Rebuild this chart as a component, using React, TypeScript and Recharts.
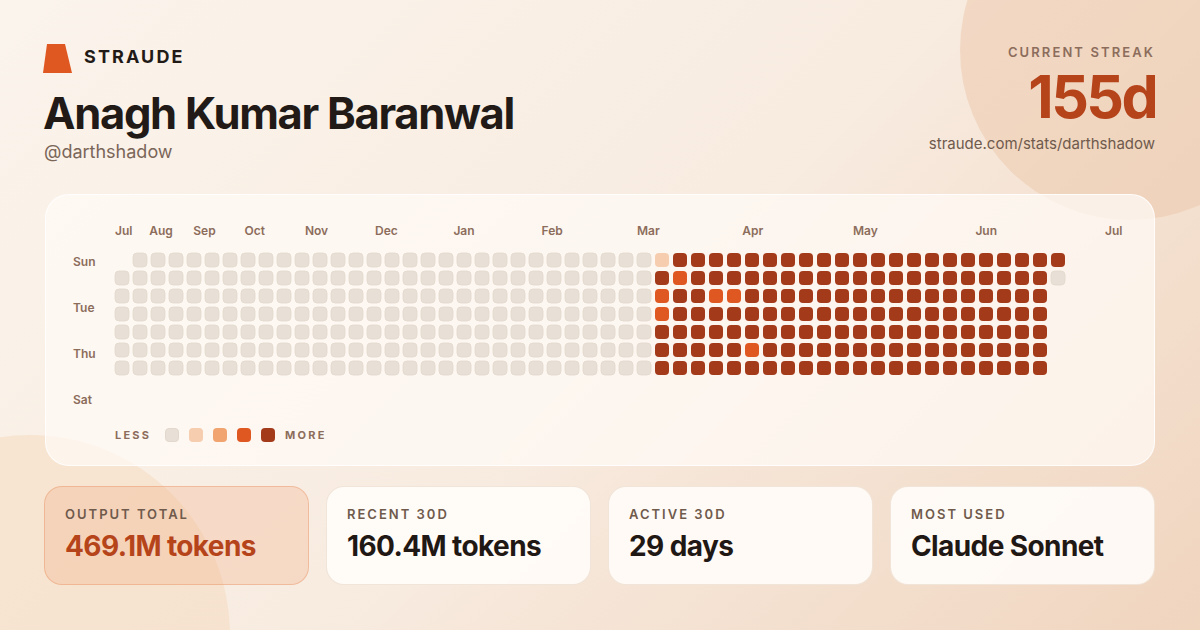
import { Scatter, ScatterChart, XAxis, YAxis } from "recharts";

// one string per weekday, one char per week column ("-" = no day, 0..4 = level)
const DAY_ROWS = ["Sun", "Mon", "Tue", "Wed", "Thu", "Fri", "Sat"];
const LEVELS = [
  "-0000000000000000000000000000014444444444444444444444",
  "00000000000000000000000000000043444444444444444444440",
  "0000000000000000000000000000003443344444444444444444-",
  "0000000000000000000000000000003444444444444444444444-",
  "0000000000000000000000000000004444444444444444444444-",
  "0000000000000000000000000000004444434444444444444444-",
  "0000000000000000000000000000004444444444444444444444-",
];

const MONTHS = ["Jul", "Aug", "Sep", "Oct", "Nov", "Dec", "Jan", "Feb", "Mar", "Apr", "May", "Jun", "Jul"];
const MONTH_COLS = [0, 1.9, 4.35, 7.2, 10.55, 14.45, 18.8, 23.7, 29, 34.85, 41, 47.8, 55];
const DAY_LABELS = ["Sun", "Tue", "Thu", "Sat"];
const DAY_LABEL_ROWS = [0, 2.556, 5.111, 7.667];

const STATS = [
  { label: "OUTPUT TOTAL", value: "469.1M tokens" },
  { label: "RECENT 30D", value: "160.4M tokens" },
  { label: "ACTIVE 30D", value: "29 days" },
  { label: "MOST USED", value: "Claude Sonnet" },
];

const COLORS = ["#e8e0d6", "#f6cdae", "#f1a46f", "#e05821", "#a33b1b"];
const FONT = "Inter, 'Noto Sans', sans-serif";
const LABEL = "#8c6d5c";

const cells: { col: number; row: number; level: number }[] = [];
LEVELS.forEach((line, row) => {
  line.split("").forEach((ch, col) => {
    if (ch !== "-") cells.push({ col, row, level: Number(ch) });
  });
});

function CellShape(props: any) {
  const { cx, cy, payload } = props;
  const lvl = payload.level;
  return (
    <rect
      x={cx - 7}
      y={cy - 7}
      width={14}
      height={14}
      rx={4}
      fill={COLORS[lvl]}
      stroke={lvl === 0 ? "#e2d8cd" : "none"}
      strokeWidth={lvl === 0 ? 0.8 : 0}
    />
  );
}

function MonthTick(props: any) {
  const { x, index } = props;
  return (
    <text x={x - 7} y={230} dominantBaseline="central" fill={LABEL} fontSize={12} fontWeight={600} fontFamily={FONT}>
      {MONTHS[index]}
    </text>
  );
}

function DayTick(props: any) {
  const { y, index } = props;
  return (
    <text x={73} y={y + 1.5} dominantBaseline="central" fill={LABEL} fontSize={12} fontWeight={600} fontFamily={FONT}>
      {DAY_LABELS[index]}
    </text>
  );
}

function StatCard({ label, value, i }: { label: string; value: string; i: number }) {
  const first = i === 0;
  return (
    <div
      style={{
        position: "absolute",
        left: 44 + i * 282,
        top: 486,
        width: 265,
        height: 99,
        boxSizing: "border-box",
        borderRadius: 18,
        background: first ? "rgba(240,170,125,0.28)" : "rgba(255,252,249,0.92)",
        border: first ? "1px solid rgba(232,150,105,0.45)" : "1px solid rgba(240,225,212,0.9)",
        padding: "19px 0 0 20px",
      }}
    >
      <div style={{ fontSize: 13, fontWeight: 600, letterSpacing: 2, color: "#6f5a4c", lineHeight: "16px" }}>{label}</div>
      <div
        style={{
          marginTop: 7,
          fontSize: 28,
          fontWeight: 700,
          letterSpacing: -0.6,
          color: first ? "#b6441b" : "#1f1814",
          lineHeight: "34px",
        }}
      >
        {value}
      </div>
    </div>
  );
}

export default function App() {
  return (
    <div
      style={{
        position: "absolute",
        left: 0,
        top: 0,
        width: 1200,
        height: 630,
        overflow: "hidden",
        fontFamily: FONT,
        background: "linear-gradient(135deg, #fbf4ec 0%, #f8ece1 50%, #f0d5bf 100%)",
      }}
    >
      <div
        style={{
          position: "absolute",
          left: 960,
          top: -120,
          width: 340,
          height: 340,
          borderRadius: "50%",
          background: "rgba(236,196,165,0.45)",
        }}
      />
      <div
        style={{
          position: "absolute",
          left: -170,
          top: 435,
          width: 400,
          height: 400,
          borderRadius: "50%",
          background: "rgba(245,215,185,0.45)",
        }}
      />

      {/* header */}
      <svg style={{ position: "absolute", left: 43, top: 44 }} width={30} height={29}>
        <polygon points="4,0 22,0 29,29 0,29" fill="#e05821" />
      </svg>
      <div style={{ position: "absolute", left: 84, top: 46, fontSize: 18, fontWeight: 700, letterSpacing: 2.1, color: "#221a16", lineHeight: "22px" }}>
        STRAUDE
      </div>
      <div style={{ position: "absolute", left: 43, top: 86, fontSize: 43.5, fontWeight: 700, letterSpacing: -1.3, color: "#221a16", lineHeight: "54px" }}>
        Anagh Kumar Baranwal
      </div>
      <div style={{ position: "absolute", left: 44, top: 141, fontSize: 18, color: "#7a6658", lineHeight: "22px" }}>@darthshadow</div>

      <div style={{ position: "absolute", right: 45, top: 44, fontSize: 13, fontWeight: 600, letterSpacing: 2.1, color: "#8c6d5c", lineHeight: "16px", textAlign: "right" }}>
        CURRENT STREAK
      </div>
      <div style={{ position: "absolute", right: 44, top: 65, fontSize: 59, fontWeight: 700, letterSpacing: -2.6, color: "#b6441b", lineHeight: "64px", textAlign: "right" }}>
        155d
      </div>
      <div style={{ position: "absolute", right: 45, top: 134, fontSize: 15, color: "#6f5a4c", lineHeight: "20px", textAlign: "right" }}>
        straude.com/stats/darthshadow
      </div>

      {/* heatmap card */}
      <div
        style={{
          position: "absolute",
          left: 45,
          top: 194,
          width: 1110,
          height: 272,
          boxSizing: "border-box",
          borderRadius: 24,
          background: "rgba(255,251,247,0.72)",
          border: "1px solid rgba(255,255,255,0.85)",
        }}
      />
      <div style={{ position: "absolute", left: 0, top: 0 }}>
        <ScatterChart width={1200} height={630} margin={{ top: 230, right: 88, bottom: 232, left: 72 }}>
          <XAxis
            type="number"
            dataKey="col"
            orientation="top"
            domain={[0, 55]}
            ticks={MONTH_COLS}
            interval={0}
            height={30}
            axisLine={false}
            tickLine={false}
            tick={<MonthTick />}
          />
          <YAxis
            type="number"
            dataKey="row"
            reversed
            domain={[0, 7.667]}
            ticks={DAY_LABEL_ROWS}
            interval={0}
            width={50}
            axisLine={false}
            tickLine={false}
            tick={<DayTick />}
          />
          <Scatter data={cells} shape={<CellShape />} isAnimationActive={false} />
        </ScatterChart>
      </div>

      {/* legend */}
      <div style={{ position: "absolute", left: 115, top: 427, display: "flex", alignItems: "center", height: 16 }}>
        <span style={{ fontSize: 11, fontWeight: 700, letterSpacing: 2.2, color: LABEL, marginRight: 14 }}>LESS</span>
        {COLORS.map((c, i) => (
          <span
            key={i}
            style={{
              width: 14,
              height: 14,
              borderRadius: 4,
              background: c,
              marginRight: 10,
              boxSizing: "border-box",
              border: i === 0 ? "0.8px solid #e2d8cd" : "none",
            }}
          />
        ))}
        <span style={{ fontSize: 11, fontWeight: 700, letterSpacing: 2.2, color: LABEL, marginLeft: 0 }}>MORE</span>
      </div>

      {STATS.map((s, i) => (
        <StatCard key={s.label} label={s.label} value={s.value} i={i} />
      ))}
    </div>
  );
}
